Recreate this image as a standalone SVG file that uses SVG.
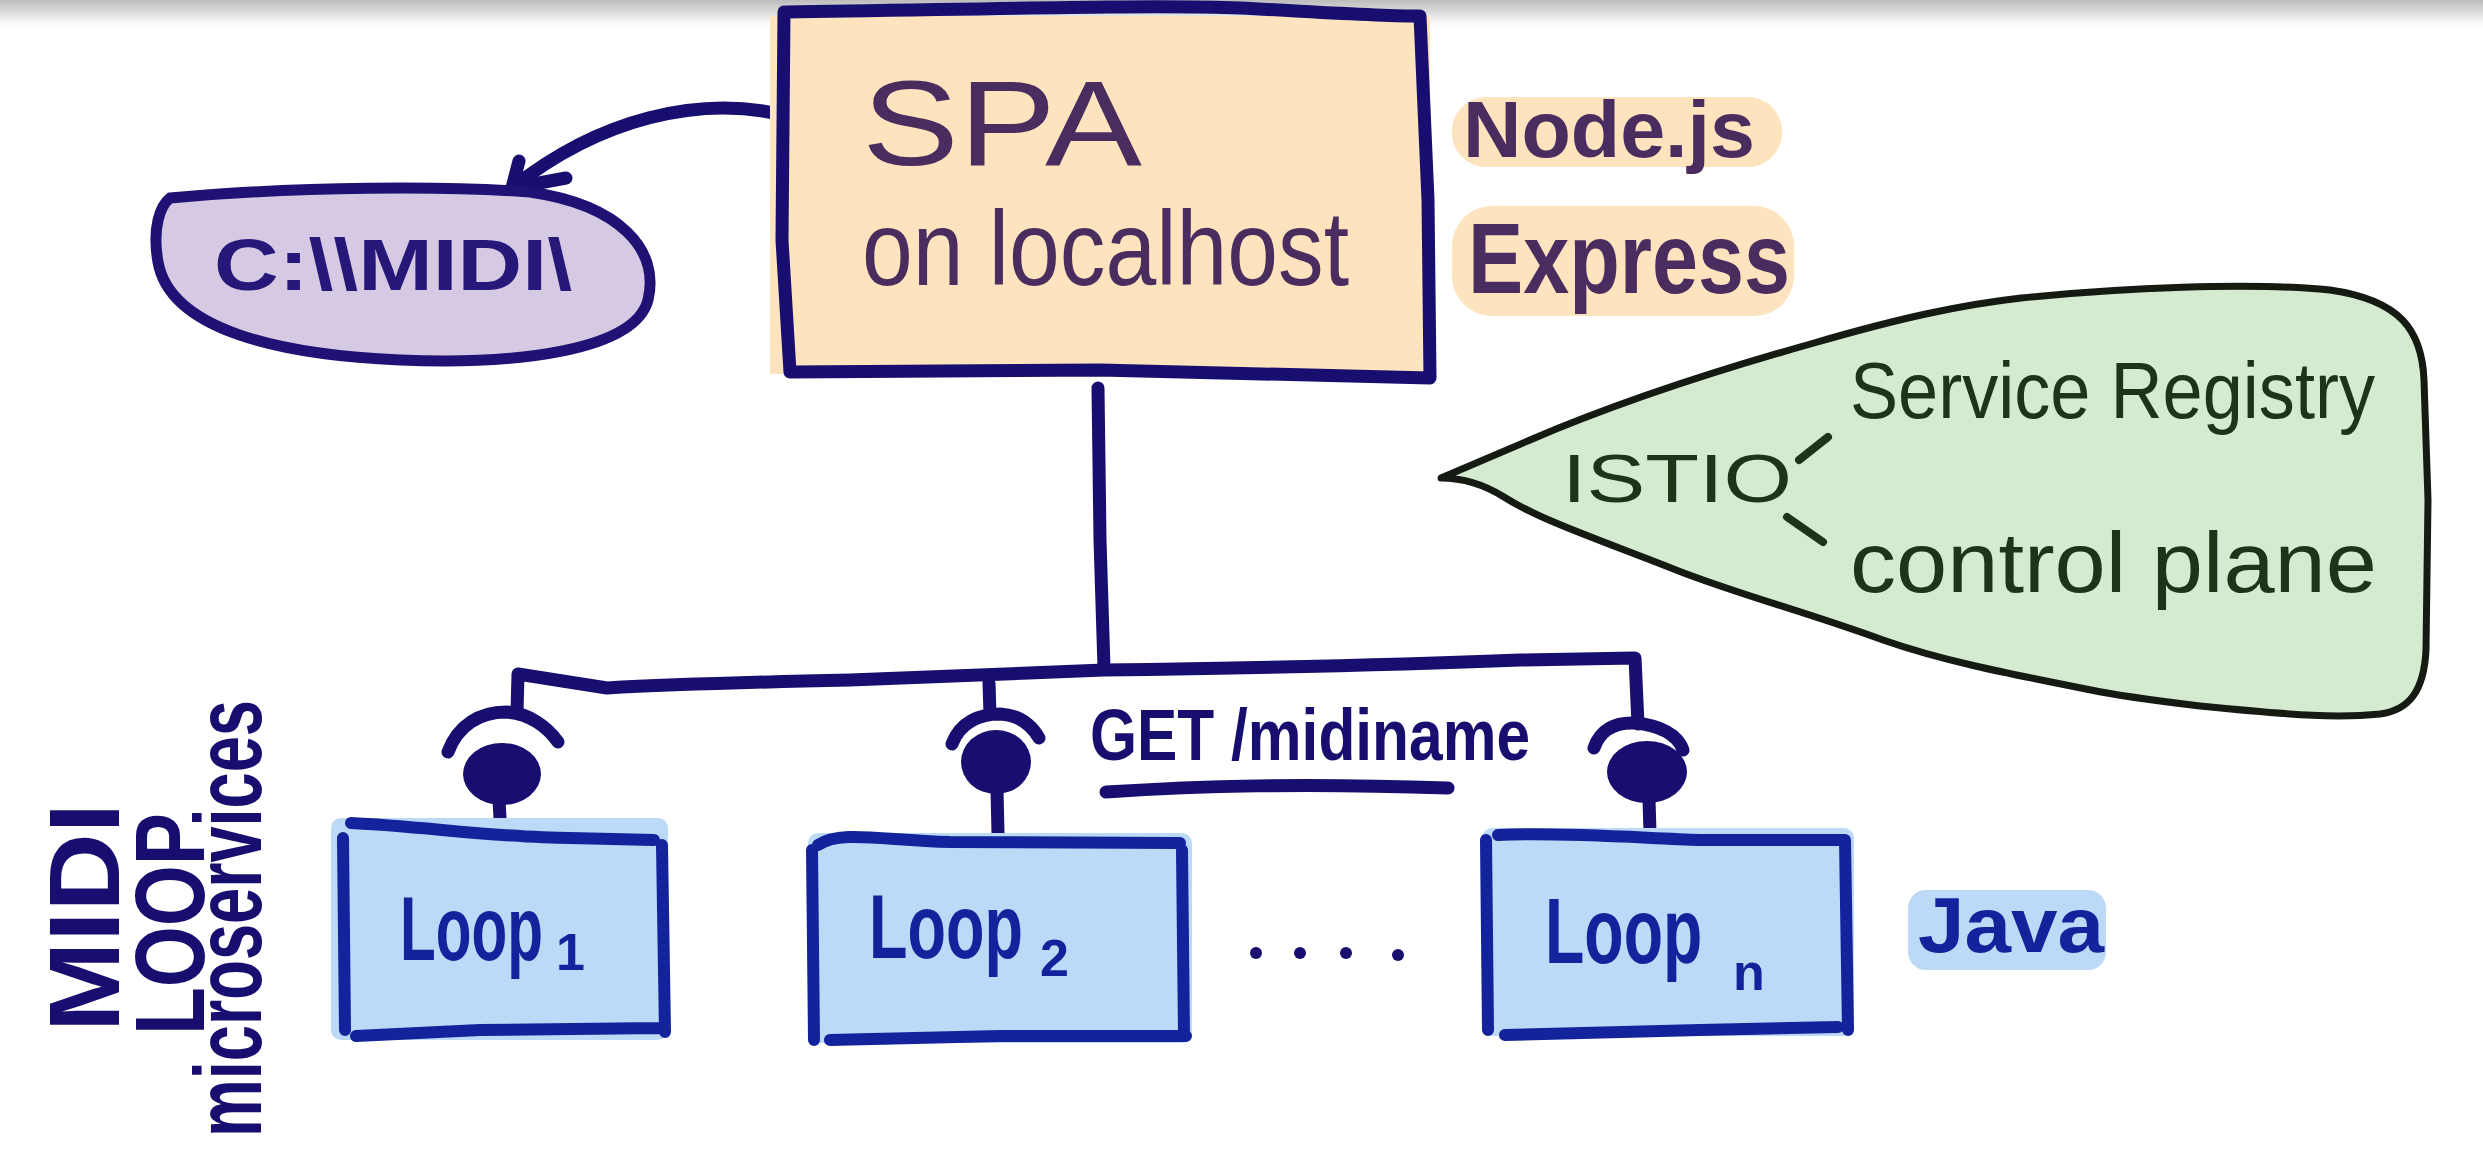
<svg xmlns="http://www.w3.org/2000/svg" width="2483" height="1154" viewBox="0 0 2483 1154">
<defs>
<linearGradient id="topbar" x1="0" y1="0" x2="0" y2="1">
<stop offset="0" stop-color="#bdbdbd"/>
<stop offset="1" stop-color="#ffffff"/>
</linearGradient>
<style>
.hw{font-family:"Liberation Sans","DejaVu Sans",sans-serif}
.nv{stroke:#180e6f;stroke-width:13;fill:none;stroke-linecap:round;stroke-linejoin:round}
.bx{stroke:#13239c;stroke-width:12;fill:none;stroke-linecap:round;stroke-linejoin:round}
.lpfill{fill:#bcd9f7}
.lptxt{fill:#13239c;font-weight:bold}
.ball{fill:#180e6f}
</style>
</defs>
<rect x="0" y="0" width="2483" height="1154" fill="#ffffff"/>
<rect x="0" y="0" width="2483" height="26" fill="url(#topbar)"/>

<g id="connectors">
<path class="nv" d="M783,115 C700,95 600,118 512,188"/>
<path class="nv" d="M519,161 L512,188 L566,178"/>
<path class="nv" d="M1098,388 L1100,540 L1104,668"/>
<path class="nv" d="M517,712 L518,674 L607,688 C680,684 760,682 850,680 C950,676 1040,672 1104,670 C1250,668 1420,664 1520,660 L1635,658 L1638,724"/>
<path class="nv" d="M989,683 L990,714"/>
<path class="nv" d="M448,752 C458,725 480,712 506,712 C530,713 548,728 558,742"/>
<ellipse class="ball" cx="502" cy="774" rx="39" ry="31"/>
<path class="nv" d="M499,800 L501,836"/>
<path class="nv" d="M952,744 C960,722 980,714 1000,714 C1020,715 1032,726 1039,738"/>
<ellipse class="ball" cx="996" cy="762" rx="35" ry="32"/>
<path class="nv" d="M997,790 L998,833"/>
<path class="nv" d="M1594,748 C1600,730 1615,722 1635,723 C1660,725 1678,735 1683,750"/>
<ellipse class="ball" cx="1647" cy="772" rx="40" ry="31"/>
<path class="nv" d="M1649,800 L1650,832"/>
</g>

<g id="spa">
<rect x="770" y="16" width="660" height="358" fill="#fde4be"/>
<path class="nv" d="M787,12 C950,10 1150,4 1240,8 C1320,12 1380,16 1420,16 L1428,200 L1430,378 L1100,370 L790,372 L782,240 L784,12"/>
<text class="hw" x="862" y="165" font-size="120" fill="#4b2c5e" textLength="280" lengthAdjust="spacingAndGlyphs">SPA</text>
<text class="hw" x="862" y="285" font-size="105" fill="#4b2c5e" textLength="487" lengthAdjust="spacingAndGlyphs">on localhost</text>
</g>

<g id="spa-tech">
<rect x="1452" y="97" width="330" height="70" rx="34" fill="#fde4be"/>
<rect x="1452" y="206" width="342" height="110" rx="40" fill="#fde4be"/>
<text class="hw" x="1463" y="157" font-size="80" font-weight="bold" fill="#4b2c5e" textLength="292" lengthAdjust="spacingAndGlyphs">Node.js</text>
<text class="hw" x="1468" y="293" font-size="100" font-weight="bold" fill="#4b2c5e" textLength="322" lengthAdjust="spacingAndGlyphs">Express</text>
</g>

<g id="call-midi">
<path d="M170,198 C300,186 450,186 530,192 C620,205 660,250 648,300 C635,350 520,365 400,360 C280,355 170,330 158,262 C152,228 160,206 170,198 Z" fill="#d5c9e3" stroke="#201275" stroke-width="11"/>
<text class="hw" x="214" y="290" font-size="72" font-weight="bold" fill="#261778" textLength="358" lengthAdjust="spacingAndGlyphs">C:\\MIDI\</text>
</g>

<g id="istio">
<path d="M1441,478 L1530,440 C1600,410 1700,375 1814,343 C1900,318 1960,305 2021,298 C2120,288 2250,282 2330,290 C2400,300 2422,330 2424,380 L2428,500 L2426,650 C2424,690 2410,710 2380,714 C2340,718 2300,716 2200,706 C2150,700 2110,694 2091,690 C2000,672 1940,660 1883,640 C1800,610 1740,595 1676,570 C1600,540 1540,520 1504,497 C1480,482 1460,478 1441,478 Z" fill="#d4ebd0" stroke="#151a12" stroke-width="7" stroke-linejoin="round"/>
<text class="hw" x="1562" y="502" font-size="68" fill="#1e3317" textLength="230" lengthAdjust="spacingAndGlyphs">ISTIO</text>
<path d="M1828,437 L1799,460 M1787,517 L1823,542" stroke="#1e3317" stroke-width="8" stroke-linecap="round" fill="none"/>
<text class="hw" x="1850" y="418" font-size="80" fill="#1e3317" textLength="525" lengthAdjust="spacingAndGlyphs">Service Registry</text>
<text class="hw" x="1850" y="592" font-size="86" fill="#1e3317" textLength="527" lengthAdjust="spacingAndGlyphs">control plane</text>
</g>

<g id="get-label">
<text class="hw" x="1090" y="760" font-size="72" font-weight="bold" fill="#180e6f" textLength="440" lengthAdjust="spacingAndGlyphs">GET /midiname</text>
<path class="nv" d="M1106,792 C1200,786 1300,783 1448,788"/>
</g>

<g id="loop1">
<rect class="lpfill" x="331" y="818" width="337" height="222" rx="10"/>
<path class="bx" d="M351,823 C420,826 500,838 570,838 L654,840 M343,838 L345,1030 M662,845 L665,1032 M356,1036 L480,1030 L660,1028"/>
<text class="hw lptxt" transform="translate(400,960) scale(0.65,1)" font-size="90">Loop</text>
<text class="hw lptxt" x="556" y="970" font-size="52">1</text>
</g>

<g id="loop2">
<rect class="lpfill" x="808" y="833" width="384" height="210" rx="10"/>
<path class="bx" d="M818,845 C840,830 880,840 950,842 L1180,843 M812,850 L814,1040 M1182,850 L1184,1035 M830,1040 L1000,1036 L1186,1036"/>
<text class="hw lptxt" transform="translate(869,958) scale(0.7,1)" font-size="90">Loop</text>
<text class="hw lptxt" x="1040" y="976" font-size="52">2</text>
</g>

<g id="loop-dots">
<circle cx="1256" cy="953" r="6" fill="#180e6f"/>
<circle cx="1300" cy="953" r="6" fill="#180e6f"/>
<circle cx="1346" cy="953" r="6" fill="#180e6f"/>
<circle cx="1398" cy="955" r="6" fill="#180e6f"/>
</g>

<g id="loopn">
<rect class="lpfill" x="1482" y="828" width="372" height="208" rx="10"/>
<path class="bx" d="M1498,835 C1560,832 1640,838 1700,840 L1845,840 L1848,1030 M1486,840 L1488,1030 M1505,1035 L1700,1030 L1838,1027"/>
<text class="hw lptxt" transform="translate(1545,963) scale(0.7,1)" font-size="92">Loop</text>
<text class="hw lptxt" x="1733" y="990" font-size="52">n</text>
</g>

<g id="java">
<rect x="1908" y="890" width="198" height="80" rx="18" fill="#bcd9f7"/>
<text class="hw lptxt" x="1918" y="952" font-size="78" textLength="186" lengthAdjust="spacingAndGlyphs">Java</text>
</g>

<g id="side-label" fill="#180e6f" font-weight="bold">
<text class="hw" transform="translate(119,1032) rotate(-90)" font-size="100" textLength="229" lengthAdjust="spacingAndGlyphs">MIDI</text>
<text class="hw" transform="translate(204,1035) rotate(-90)" font-size="98" textLength="222" lengthAdjust="spacingAndGlyphs">LOOP</text>
<text class="hw" transform="translate(261,1137) rotate(-90)" font-size="95" textLength="437" lengthAdjust="spacingAndGlyphs">microservices</text>
</g>
</svg>
